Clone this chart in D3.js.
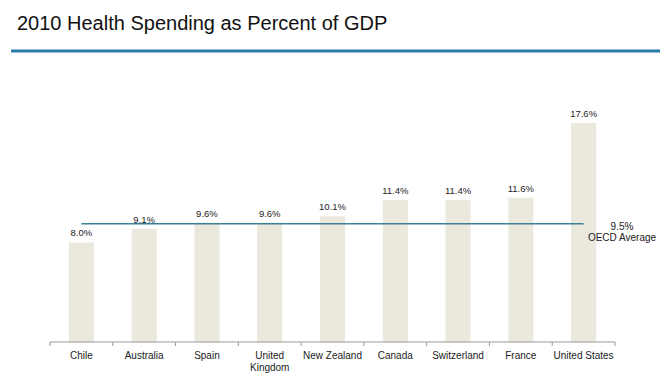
<!DOCTYPE html>
<html lang="en">
<head>
    <meta charset="UTF-8">
    <title>2010 Health Spending as Percent of GDP</title>
    <script src="https://d3js.org/d3.v7.min.js"></script>
    <style>
        body { margin: 0; background: #fff; }
        text { font-family: "Liberation Sans", Arial, sans-serif; }
    </style>
</head>
<body>
    <script>
        // data
        var countries = ["Chile", "Australia", "Spain", "United Kingdom", "New Zealand",
                         "Canada", "Switzerland", "France", "United States"];
        var spending = [8.0, 9.1, 9.6, 9.6, 10.1, 11.4, 11.4, 11.6, 17.6];
        var oecdAverage = 9.5;

        var w = 672, h = 386;

        var svg = d3.select("body")
                    .append("svg")
                    .attr("width", w)
                    .attr("height", h);

        // title + blue rule
        svg.append("text")
            .attr("x", 17)
            .attr("y", 30)
            .attr("font-size", 20)
            .attr("fill", "#111")
            .text("2010 Health Spending as Percent of GDP");

        svg.append("line")
            .attr("x1", 11).attr("x2", 660)
            .attr("y1", 51).attr("y2", 51)
            .attr("stroke", "#2a7bab")
            .attr("stroke-width", 3);

        var xScale = d3.scaleBand()
                       .domain(countries)
                       .range([50, 615])
                       .paddingInner(0.6)
                       .paddingOuter(0.3);

        var yScale = d3.scaleLinear()
                       .domain([0, 18])
                       .range([342, 118]);

        var step = xScale.step();

        // bars
        svg.selectAll("rect.bar")
            .data(spending)
            .enter()
            .append("rect")
            .attr("class", "bar")
            .attr("x", function(d, i) { return xScale(countries[i]); })
            .attr("y", function(d) { return yScale(d); })
            .attr("width", xScale.bandwidth())
            .attr("height", function(d) { return yScale(0) - yScale(d); })
            .attr("fill", "#ebe8dd");

        // value labels
        svg.selectAll("text.value")
            .data(spending)
            .enter()
            .append("text")
            .attr("class", "value")
            .attr("x", function(d, i) { return xScale(countries[i]) + xScale.bandwidth() / 2; })
            .attr("y", function(d) { return yScale(d) - 6; })
            .attr("text-anchor", "middle")
            .attr("font-size", 9.5)
            .attr("fill", "#222")
            .text(function(d) { return d.toFixed(1) + "%"; });

        // x axis line and ticks between categories
        var axis = svg.append("g");
        axis.append("line")
            .attr("x1", 50).attr("x2", 615)
            .attr("y1", yScale(0)).attr("y2", yScale(0))
            .attr("stroke", "#999");

        var tickPos = countries.map(function(c) {
            return xScale(c) + xScale.bandwidth() / 2 - step / 2;
        });
        tickPos.push(615);
        axis.selectAll("line.tick")
            .data(tickPos)
            .enter()
            .append("line")
            .attr("class", "tick")
            .attr("x1", function(d) { return d; })
            .attr("x2", function(d) { return d; })
            .attr("y1", yScale(0))
            .attr("y2", yScale(0) + 4)
            .attr("stroke", "#999");

        // category labels (wrap "United Kingdom")
        var cats = axis.selectAll("text.cat")
            .data(countries)
            .enter()
            .append("text")
            .attr("class", "cat")
            .attr("x", function(d) { return xScale(d) + xScale.bandwidth() / 2; })
            .attr("y", 359)
            .attr("text-anchor", "middle")
            .attr("font-size", 10)
            .attr("fill", "#222");

        cats.each(function(d) {
            var t = d3.select(this);
            var lines = d === "United Kingdom" ? ["United", "Kingdom"] : [d];
            lines.forEach(function(l, j) {
                t.append("tspan")
                    .attr("x", xScale(d) + xScale.bandwidth() / 2)
                    .attr("dy", j === 0 ? 0 : 12)
                    .text(l);
            });
        });

        // OECD average line
        var xFirst = xScale(countries[0]) + xScale.bandwidth() / 2;
        var xLast = xScale(countries[countries.length - 1]) + xScale.bandwidth() / 2;
        svg.append("line")
            .attr("x1", xFirst).attr("x2", xLast)
            .attr("y1", yScale(oecdAverage)).attr("y2", yScale(oecdAverage))
            .attr("stroke", "#3b8197")
            .attr("stroke-width", 1.5);

        svg.append("text")
            .attr("x", 622)
            .attr("y", yScale(oecdAverage) + 6)
            .attr("text-anchor", "middle")
            .attr("font-size", 10)
            .attr("fill", "#222")
            .text(oecdAverage.toFixed(1) + "%");

        svg.append("text")
            .attr("x", 622)
            .attr("y", yScale(oecdAverage) + 17)
            .attr("text-anchor", "middle")
            .attr("font-size", 10)
            .attr("fill", "#222")
            .text("OECD Average");
    </script>
</body>
</html>
